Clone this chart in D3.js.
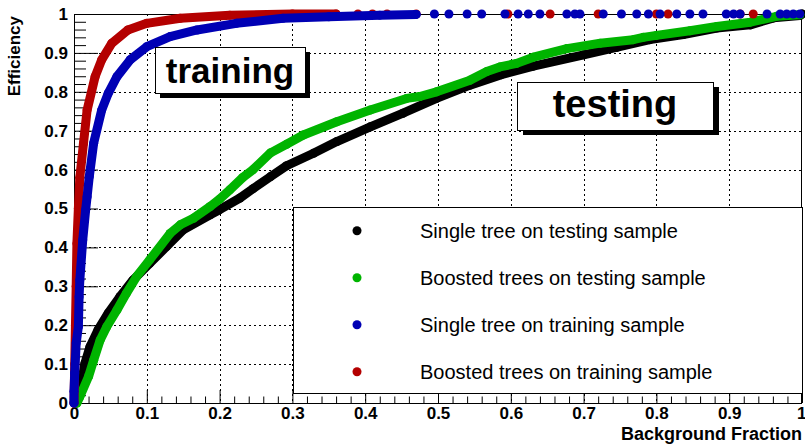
<!DOCTYPE html>
<html>
<head>
<meta charset="utf-8">
<script src="https://cdn.jsdelivr.net/npm/d3@7/dist/d3.min.js"></script>
<style>
  html, body { margin: 0; padding: 0; background: #fff; }
  svg { display: block; }
  text { font-family: "Liberation Sans", Arial, Helvetica, sans-serif; }
</style>
</head>
<body>
<svg id="chart" width="805" height="444"></svg>
<script>
// ---------------- DATA ----------------
const xTickValues = [0, 0.1, 0.2, 0.3, 0.4, 0.5, 0.6, 0.7, 0.8, 0.9, 1];
const xTickLabels = ["0", "0.1", "0.2", "0.3", "0.4", "0.5", "0.6", "0.7", "0.8", "0.9", "1"];
const yTickValues = [0, 0.1, 0.2, 0.3, 0.4, 0.5, 0.6, 0.7, 0.8, 0.9, 1];
const yTickLabels = ["0", "0.1", "0.2", "0.3", "0.4", "0.5", "0.6", "0.7", "0.8", "0.9", "1"];

const xTitle = "Background Fraction";
const yTitle = "Efficiency";

const seriesNames = [
  "Single tree on testing sample",
  "Boosted trees on testing sample",
  "Single tree on training sample",
  "Boosted trees on training sample"
];

// Single tree on testing sample (black)  [background fraction, efficiency]
const singleTest = [
  [0.003, 0.000], [0.006, 0.025], [0.011, 0.059], [0.015, 0.102], [0.022, 0.145],
  [0.033, 0.188], [0.047, 0.231], [0.063, 0.273], [0.081, 0.316], [0.104, 0.359],
  [0.127, 0.402], [0.150, 0.445], [0.187, 0.484], [0.200, 0.497], [0.228, 0.527],
  [0.246, 0.551], [0.270, 0.582], [0.292, 0.610], [0.329, 0.642], [0.361, 0.672],
  [0.407, 0.710], [0.452, 0.745], [0.498, 0.783], [0.544, 0.817], [0.587, 0.844],
  [0.631, 0.866], [0.700, 0.895], [0.745, 0.914], [0.791, 0.934], [0.837, 0.947],
  [0.883, 0.964], [0.929, 0.972], [0.961, 0.990], [0.997, 0.996], [1.000, 1.000]
];

// Boosted trees on testing sample (green)
const boostedTest = [
  [0.004, 0.000], [0.008, 0.016], [0.020, 0.068], [0.027, 0.110], [0.036, 0.162],
  [0.045, 0.196], [0.059, 0.239], [0.072, 0.282], [0.086, 0.325], [0.104, 0.368],
  [0.132, 0.436], [0.146, 0.458], [0.164, 0.475], [0.187, 0.505], [0.200, 0.524],
  [0.214, 0.548], [0.232, 0.580], [0.246, 0.600], [0.270, 0.643], [0.292, 0.665],
  [0.315, 0.689], [0.361, 0.723], [0.407, 0.753], [0.457, 0.783], [0.475, 0.788],
  [0.498, 0.800], [0.544, 0.830], [0.567, 0.852], [0.585, 0.864], [0.608, 0.873],
  [0.631, 0.889], [0.677, 0.911], [0.723, 0.925], [0.768, 0.934], [0.782, 0.940],
  [0.800, 0.945], [0.846, 0.957], [0.883, 0.968], [0.929, 0.979], [0.965, 0.994],
  [0.997, 0.998]
];

// Single tree on training sample (blue): dense part of the curve
const singleTrain = [
  [0.000, 0.000], [0.000, 0.030], [0.001, 0.077], [0.003, 0.154], [0.006, 0.196],
  [0.007, 0.273], [0.008, 0.316], [0.012, 0.419], [0.016, 0.496], [0.018, 0.530],
  [0.021, 0.582], [0.027, 0.668], [0.038, 0.753], [0.047, 0.796], [0.059, 0.839],
  [0.077, 0.882], [0.100, 0.916], [0.132, 0.942], [0.169, 0.959], [0.223, 0.976],
  [0.287, 0.989], [0.350, 0.993], [0.420, 0.997], [0.470, 0.999]
];
// Single tree on training sample (blue): isolated points at efficiency 1
const singleTrainTop = [
  [0.495, 1], [0.515, 1], [0.540, 1], [0.560, 1], [0.592, 1], [0.610, 1], [0.624, 1],
  [0.640, 1], [0.677, 1], [0.688, 1], [0.695, 1], [0.727, 1], [0.752, 1], [0.773, 1],
  [0.789, 1], [0.805, 1], [0.828, 1], [0.846, 1], [0.864, 1], [0.896, 1], [0.906, 1],
  [0.915, 1], [0.952, 1], [0.970, 1], [0.979, 1], [0.988, 1], [0.997, 1]
];

// Boosted trees on training sample (red): dense part of the curve
const boostedTrain = [
  [0.000, 0.000], [0.001, 0.100], [0.002, 0.200], [0.003, 0.300], [0.004, 0.410],
  [0.006, 0.500], [0.008, 0.580], [0.013, 0.667], [0.018, 0.753], [0.029, 0.839],
  [0.038, 0.882], [0.052, 0.925], [0.074, 0.959], [0.100, 0.976], [0.146, 0.989],
  [0.214, 0.997], [0.300, 1.000], [0.360, 1.000]
];
// Boosted trees on training sample (red): isolated points at efficiency 1
const boostedTrainTop = [
  [0.390, 1], [0.410, 1], [0.430, 1], [0.470, 1], [0.596, 1], [0.654, 1],
  [0.720, 1], [0.800, 1], [0.816, 1], [0.915, 1], [0.933, 1]
];

// ---------------- DRAWING ----------------
const colors = { black: "#000000", green: "#00b400", blue: "#0000b4", red: "#b40000" };

const svg = d3.select("#chart");
const W = 805, H = 444;
const plot = { left: 74, right: 802, top: 14, bottom: 403 };

svg.append("rect").attr("width", W).attr("height", H).attr("fill", "#fff");

const x = d3.scaleLinear().domain([0, 1]).range([plot.left, plot.right]);
const y = d3.scaleLinear().domain([0, 1]).range([plot.bottom, plot.top]);

// grid (dotted)
const grid = svg.append("g").attr("stroke", "#000").attr("stroke-width", 1)
  .attr("stroke-dasharray", "2,3");
grid.selectAll("line.gx").data(xTickValues.filter(v => v > 0 && v < 1)).join("line")
  .attr("x1", d => Math.round(x(d)) + 0.5).attr("x2", d => Math.round(x(d)) + 0.5)
  .attr("y1", plot.top).attr("y2", plot.bottom);
grid.selectAll("line.gy").data(yTickValues.filter(v => v > 0 && v < 1)).join("line")
  .attr("y1", d => Math.round(y(d)) + 0.5).attr("y2", d => Math.round(y(d)) + 0.5)
  .attr("x1", plot.left).attr("x2", plot.right);

// minor ticks
const minorVals = d3.range(0, 51).map(i => i / 50).filter(v => Math.abs(v * 10 - Math.round(v * 10)) > 1e-6);
const xMinor = svg.append("g").attr("transform", `translate(0,${plot.bottom})`)
  .call(d3.axisBottom(x).tickValues(minorVals).tickSize(-6.5).tickFormat(""));
const yMinor = svg.append("g").attr("transform", `translate(${plot.left},0)`)
  .call(d3.axisLeft(y).tickValues(minorVals).tickSize(-12).tickFormat(""));
[xMinor, yMinor].forEach(g => { g.select(".domain").remove(); g.selectAll("line").attr("stroke", "#000"); });

// major ticks + labels
const xAxis = svg.append("g").attr("transform", `translate(0,${plot.bottom})`)
  .call(d3.axisBottom(x).tickValues(xTickValues).tickSize(-13).tickPadding(4)
    .tickFormat((d, i) => xTickLabels[i]));
const yAxis = svg.append("g").attr("transform", `translate(${plot.left},0)`)
  .call(d3.axisLeft(y).tickValues(yTickValues).tickSize(-24).tickPadding(6)
    .tickFormat((d, i) => yTickLabels[i]));
[xAxis, yAxis].forEach(g => {
  g.select(".domain").remove();
  g.selectAll("line").attr("stroke", "#000");
  g.selectAll("text").attr("fill", "#000").attr("font-size", 17).attr("font-weight", "bold")
    .attr("font-family", '"Liberation Sans", Arial, sans-serif');
});
// keep the last x label inside the picture
xAxis.selectAll(".tick").filter(d => d === 1).select("text").attr("text-anchor", "end").attr("dx", 4);

// frame
svg.append("rect")
  .attr("x", plot.left + 0.5).attr("y", plot.top + 0.5)
  .attr("width", plot.right - plot.left - 1).attr("height", plot.bottom - plot.top)
  .attr("fill", "none").attr("stroke", "#000").attr("stroke-width", 1);

// axis titles
svg.append("text").attr("x", plot.right).attr("y", 440).attr("text-anchor", "end")
  .attr("font-size", 18).attr("font-weight", "bold").text(xTitle);
svg.append("text").attr("transform", "translate(20,16) rotate(-90)").attr("text-anchor", "end")
  .attr("font-size", 17).attr("font-weight", "bold").text(yTitle);

// series
const line = d3.line().x(d => x(d[0])).y(d => y(d[1]));
const R = 4.5;
function drawCurve(data, color) {
  const g = svg.append("g");
  g.append("path").datum(data).attr("d", line).attr("fill", "none")
    .attr("stroke", color).attr("stroke-width", 2 * R)
    .attr("stroke-linejoin", "round").attr("stroke-linecap", "round");
  g.selectAll("circle").data(data).join("circle")
    .attr("cx", d => x(d[0])).attr("cy", d => y(d[1])).attr("r", R).attr("fill", color);
}
function drawDots(data, color) {
  svg.append("g").selectAll("circle").data(data).join("circle")
    .attr("cx", d => x(d[0])).attr("cy", d => y(d[1])).attr("r", R).attr("fill", color);
}
drawCurve(singleTest, colors.black);
drawCurve(boostedTest, colors.green);
drawCurve(boostedTrain, colors.red);
drawDots(boostedTrainTop, colors.red);
drawCurve(singleTrain, colors.blue);
drawDots(singleTrainTop, colors.blue);

// text boxes with shadows
function labelBox(x0, y0, w, h, dx, dy, txt, size, baseline) {
  svg.append("rect").attr("x", x0 + dx).attr("y", y0 + dy).attr("width", w).attr("height", h).attr("fill", "#000");
  svg.append("rect").attr("x", x0 + 0.5).attr("y", y0 + 0.5).attr("width", w).attr("height", h)
    .attr("fill", "#fff").attr("stroke", "#000").attr("stroke-width", 1);
  svg.append("text").attr("x", x0 + w / 2).attr("y", baseline).attr("text-anchor", "middle")
    .attr("font-size", size).attr("font-weight", "bold").text(txt);
}
labelBox(155, 47, 150, 46, 5, 5, "training", 35, 83);
labelBox(517, 82, 196, 48, 6, 5, "testing", 38, 117);

// legend
const leg = svg.append("g");
leg.append("rect").attr("x", 293.5).attr("y", 207.5).attr("width", 509).attr("height", 186)
  .attr("fill", "#fff").attr("stroke", "#000").attr("stroke-width", 1);
const legColors = [colors.black, colors.green, colors.blue, colors.red];
seriesNames.forEach((name, i) => {
  const cy = 230.7 + i * 47;
  leg.append("circle").attr("cx", 357).attr("cy", cy).attr("r", R).attr("fill", legColors[i]);
  leg.append("text").attr("x", 420).attr("y", cy + 7.5).attr("font-size", 20).attr("fill", "#000").text(name);
});
</script>
</body>
</html>
